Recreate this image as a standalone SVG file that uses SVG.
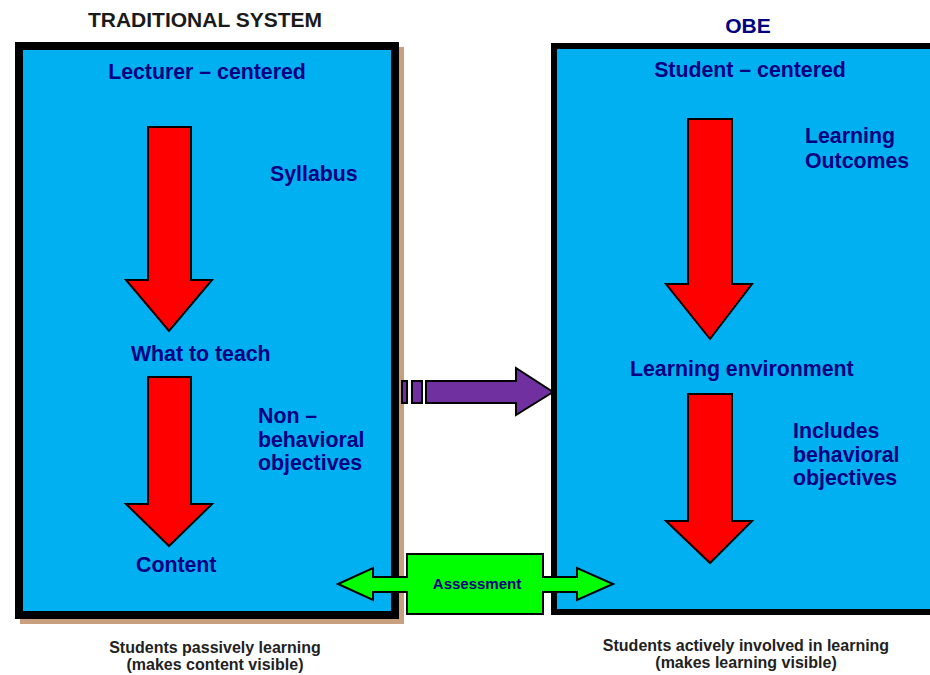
<svg xmlns="http://www.w3.org/2000/svg" width="930" height="675" viewBox="0 0 930 675">
<style>
.lbl{font-family:"Liberation Sans",Arial,sans-serif;font-weight:bold;font-size:21.3px;fill:#000080}
.hdr{font-family:"Liberation Sans",Arial,sans-serif;font-weight:bold;font-size:21px}
.foot{font-family:"Liberation Sans",Arial,sans-serif;font-weight:bold;font-size:16px;fill:#222;text-anchor:middle}
.red{fill:#ff0000;stroke:#000;stroke-width:2;stroke-linejoin:miter}
.box{fill:#00b0f0;stroke:#000}
</style>
<rect width="930" height="675" fill="#fff"/>
<text class="hdr" x="205" y="27" text-anchor="middle" fill="#1a1a1a">TRADITIONAL SYSTEM</text>
<text class="hdr" x="748" y="33" text-anchor="middle" fill="#000080">OBE</text>
<g id="traditional">
<rect x="20" y="47" width="384" height="577" fill="#c9a07f"/>
<rect class="box" x="19" y="46" width="376" height="569" stroke-width="8"/>
<text class="lbl" x="207" y="79" text-anchor="middle">Lecturer – centered</text>
</g>
<g id="obe">
<rect class="box" x="554" y="46" width="400" height="566" stroke-width="6"/>
<text class="lbl" x="750" y="77" text-anchor="middle">Student – centered</text>
</g>
<g id="connectors">
<polygon id="arrow-syllabus" class="red" points="148,127 191,127 191,280 212,280 169,331 126,280 148,280"/>
<polygon id="arrow-nonbehavioral" class="red" points="148,377 191,377 191,504 212,504 169,546 126,504 148,504"/>
<polygon id="arrow-outcomes" class="red" points="688,119 732,119 732,284 752,284 710,339 666,284 688,284"/>
<polygon id="arrow-includes" class="red" points="688,394 732,394 732,521 752,521 710,563 666,521 688,521"/>
<g id="arrow-transition" fill="#7030a0" stroke="#000" stroke-width="2">
<rect x="402" y="381" width="5" height="22"/>
<rect x="412" y="381" width="10" height="22"/>
<polygon points="426,381 516,381 516,368 553,392 516,415 516,403 426,403"/>
</g>
</g>
<g id="syllabus"><text class="lbl" x="270" y="181">Syllabus</text></g>
<g id="what-to-teach"><text class="lbl" x="131" y="361">What to teach</text></g>
<g id="non-behavioral"><text class="lbl" x="258" y="423">Non –</text><text class="lbl" x="258" y="447">behavioral</text><text class="lbl" x="258" y="470">objectives</text></g>
<g id="content"><text class="lbl" x="136" y="572">Content</text></g>
<g id="learning-outcomes"><text class="lbl" x="805" y="143">Learning</text><text class="lbl" x="805" y="168">Outcomes</text></g>
<g id="learning-environment"><text class="lbl" x="630" y="376">Learning environment</text></g>
<g id="includes"><text class="lbl" x="793" y="438">Includes</text><text class="lbl" x="793" y="462">behavioral</text><text class="lbl" x="793" y="485">objectives</text></g>
<g id="assessment">
<polygon points="407,554 543,554 543,577 577,577 577,568 613,584 577,600 577,592 543,592 543,614 407,614 407,592 373,592 373,600 338,584 373,568 373,577 407,577" fill="#00ff00" stroke="#000" stroke-width="2"/>
<text x="477" y="589" text-anchor="middle" style="font-family:'Liberation Sans',Arial,sans-serif;font-weight:bold;font-size:15px;fill:#000080">Assessment</text>
</g>
<g id="footnotes">
<text class="foot" x="215" y="653">Students passively learning</text>
<text class="foot" x="215" y="670">(makes content visible)</text>
<text class="foot" x="746" y="651">Students actively involved in learning</text>
<text class="foot" x="746" y="668">(makes learning visible)</text>
</g>
</svg>
